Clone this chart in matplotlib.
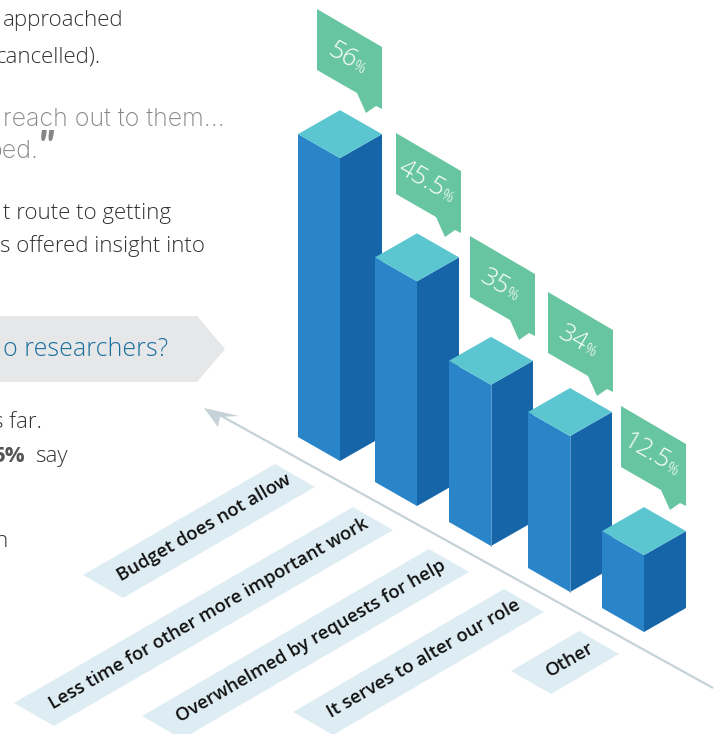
import matplotlib
matplotlib.use('Agg')
import matplotlib.pyplot as plt
from matplotlib.patches import Polygon
import numpy as np

categories = ['Budget does not allow', 'Less time for other more important work',
              'Overwhelmed by requests for help', 'It serves to alter our role', 'Other']
values = [56, 45.5, 35, 34, 12.5]

# front corner of each column's foot, in canvas pixels
bar_center_x = [340, 417, 491, 570, 644]
bar_foot_y = [461, 506, 546, 592, 632]
bar_light_seam = [False, False, True, True, False]
bubble_corner = [(317, 9), (396, 133), (470, 236), (548, 292), (621, 406)]

# strip outlines: left and top corners
strip_left = [(83, 575), (14, 703), (142, 716), (293, 712), (511, 671)]
strip_top = [(275, 464), (353, 507), (429, 549), (504, 589), (579, 631)]

BAR_HALF_WIDTH = 42
BAR_HALF_DEPTH = 24

LEFT_COLOR = '#2a85c8'
RIGHT_COLOR = '#1565a8'
TOP_COLOR = '#5cc6d0'
SEAM_COLOR = '#6aa5d5'
BUBBLE_COLOR = '#68c5a2'
STRIP_COLOR = '#deedf3'
AXIS_COLOR = '#c5d2d8'
BANNER_COLOR = '#e6e7e8'
BODY_COLOR = '#333333'
QUOTE_COLOR = '#868686'

BUBBLE_SHAPE = [(0, 0), (65, 38), (65, 100), (59, 97), (49, 104), (40, 84), (0, 61)]
ANGLE = np.radians(30)


def bar_height(value):
    # the columns grow faster than linearly with the percentage
    return 63 + 0.1144 * value ** 1.9


def draw_bar(ax, center_x, foot_y, value, light_seam):
    w = BAR_HALF_WIDTH
    d = BAR_HALF_DEPTH
    top_y = foot_y - bar_height(value)
    ax.add_patch(Polygon([(center_x - w, top_y - d), (center_x, top_y), (center_x, foot_y), (center_x - w, foot_y - d)],
                         facecolor=LEFT_COLOR, edgecolor='none'))
    ax.add_patch(Polygon([(center_x, top_y), (center_x + w, top_y - d), (center_x + w, foot_y - d), (center_x, foot_y)],
                         facecolor=RIGHT_COLOR, edgecolor='none'))
    ax.add_patch(Polygon([(center_x - w, top_y - d), (center_x, top_y - 2 * d), (center_x + w, top_y - d), (center_x, top_y)],
                         facecolor=TOP_COLOR, edgecolor='none'))
    if light_seam:
        ax.plot([center_x, center_x], [top_y, foot_y], color=SEAM_COLOR, linewidth=0.6)


def draw_bubble(ax, fig, corner, value):
    points = [(corner[0] + dx, corner[1] + dy) for dx, dy in BUBBLE_SHAPE]
    ax.add_patch(Polygon(points, facecolor=BUBBLE_COLOR, edgecolor='none'))

    # number and a smaller percent sign share one slanted baseline
    renderer = fig.canvas.get_renderer()
    number = ax.text(0, 0, '{:g}'.format(value), fontsize=18.5, color='white', family='Open Sans', weight='light',
                     rotation_mode='anchor', ha='left', va='baseline')
    percent = ax.text(0, 0, '%', fontsize=10.5, color='white', family='Open Sans', weight='light',
                      rotation_mode='anchor', ha='left', va='baseline')
    number_width = number.get_window_extent(renderer).width
    percent_width = percent.get_window_extent(renderer).width
    total = number_width + percent_width
    center_x = corner[0] + 31
    center_y = corner[1] + 48
    # baseline sits below the text centre, perpendicular to the slant
    base_x = center_x - 8 * np.sin(ANGLE)
    base_y = center_y + 8 * np.cos(ANGLE)
    start_x = base_x - total / 2 * np.cos(ANGLE)
    start_y = base_y - total / 2 * np.sin(ANGLE)
    number.set_position((start_x, start_y))
    number.set_rotation(-30)
    percent.set_position((start_x + number_width * np.cos(ANGLE), start_y + number_width * np.sin(ANGLE)))
    percent.set_rotation(-30)


def draw_strip(ax, left, top, label):
    right = (top[0] + 40, top[1] + 23)
    bottom = (left[0] + 40, left[1] + 23)
    ax.add_patch(Polygon([left, top, right, bottom], facecolor=STRIP_COLOR, edgecolor='none'))
    center = ((left[0] + right[0]) / 2 + 5, (left[1] + right[1]) / 2 - 3)
    ax.text(center[0], center[1], label, fontsize=13.3, color='#111111', family='Open Sans', weight='semibold',
            rotation=30, rotation_mode='anchor', ha='center', va='center')


def draw_copy(ax):
    body = dict(family='Open Sans', weight='light', color=BODY_COLOR, fontsize=16, ha='right', va='baseline')
    ax.text(123, 26, 'approached', **body)
    ax.text(101, 62, 'cancelled).', **body)
    ax.text(171, 219, 't route to getting', **body)
    ax.text(205, 252, 's offered insight into', **body)
    ax.text(42, 428, 's far.', **body)
    ax.text(68, 462, 'say', **body)
    ax.text(26, 462, '5%', family='Open Sans', weight='bold', color='#555555', fontsize=16, ha='right', va='baseline')
    ax.text(8, 547, 'n', **body)

    quote = dict(family='Inter', weight='light', color=QUOTE_COLOR, fontsize=18, ha='right', va='baseline')
    ax.text(225, 126, 'reach out to them...', **quote)
    ax.text(39, 158, 'ped.', **quote)
    ax.text(38, 161, '"', family='Lato', weight='black', style='italic', color=QUOTE_COLOR, fontsize=30,
            ha='left', va='baseline')

    ax.add_patch(Polygon([(0, 316), (197, 316), (225, 349), (197, 382), (0, 382)],
                         facecolor=BANNER_COLOR, edgecolor='none'))
    ax.text(168, 356, 'o researchers?', family='Open Sans', weight='light', color='#1a6f9f', fontsize=18,
            ha='right', va='baseline')


fig = plt.figure(figsize=(7.2, 7.34), dpi=100)
ax = fig.add_axes([0, 0, 1, 1])
ax.set_xlim(0, 720)
ax.set_ylim(734, 0)
ax.axis('off')

draw_copy(ax)

# floor line with its arrow head
ax.plot([713, 216], [688, 413], color=AXIS_COLOR, linewidth=1.6, solid_capstyle='butt')
ax.add_patch(Polygon([(204, 408), (239, 416), (220, 417), (218, 427)], facecolor=AXIS_COLOR, edgecolor='none'))

for category, left, top in zip(categories, strip_left, strip_top):
    draw_strip(ax, left, top, category)

for center_x, foot_y, value, light_seam in zip(bar_center_x, bar_foot_y, values, bar_light_seam):
    draw_bar(ax, center_x, foot_y, value, light_seam)

for corner, value in zip(bubble_corner, values):
    draw_bubble(ax, fig, corner, value)

fig.savefig('out.png', dpi=100)
